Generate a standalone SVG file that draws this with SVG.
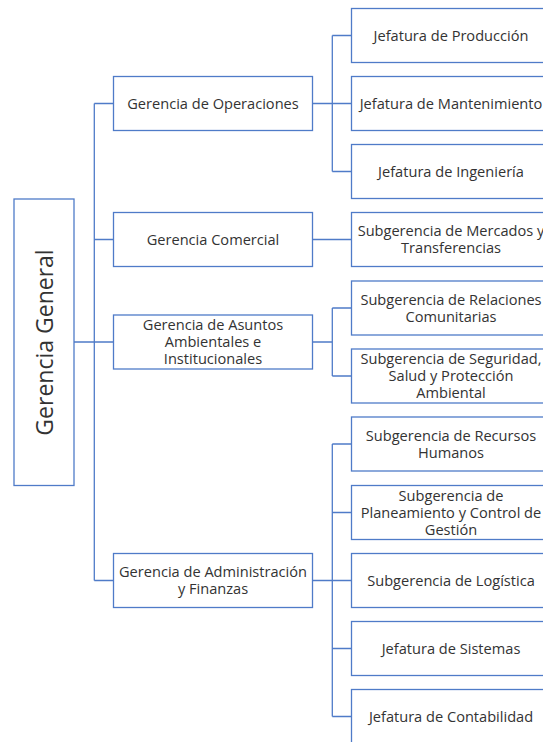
<svg xmlns="http://www.w3.org/2000/svg" width="543" height="742" viewBox="0 0 543 742">
<style>
.box{fill:#ffffff;stroke:#4f7bc8;stroke-width:1.3}
.ln{stroke:#4f7bc8;stroke-width:1.3;fill:none}
text{font-family:"Open Sans","Noto Sans",sans-serif;font-size:14.6px;fill:#333333;text-anchor:middle}
.big{font-size:23px}
</style>
<rect width="543" height="742" fill="#ffffff"/>
<g id="connectors" class="ln">
<path d="M74 342H94.3M94.3 103.5V580.5M94.3 103.5H113.5M94.3 239.5H113.5M94.3 342H113.5M94.3 580.5H113.5"/>
<path d="M312.5 103.5H332.3M332.3 35.5V171.5M332.3 35.5H351.5M332.3 103.5H351.5M332.3 171.5H351.5"/>
<path d="M312.5 239.5H351.5"/>
<path d="M312.5 342H332.3M332.3 308V376M332.3 308H351.5M332.3 376H351.5"/>
<path d="M312.5 580.5H332.3M332.3 444V716.5M332.3 444H351.5M332.3 512.5H351.5M332.3 580.5H351.5M332.3 648.5H351.5M332.3 716.5H351.5"/>
</g>
<g id="gerencia-general"><rect class="box" x="14" y="199" width="60" height="286.5"/><text class="big" transform="translate(52.5,342.5) rotate(-90)">Gerencia General</text></g>
<g id="gerencia-operaciones"><rect class="box" x="113.5" y="76.5" width="199" height="54"/><text x="213" y="108.5">Gerencia de Operaciones</text></g>
<g id="gerencia-comercial"><rect class="box" x="113.5" y="212.5" width="199" height="54"/><text x="213" y="244.5">Gerencia Comercial</text></g>
<g id="gerencia-asuntos"><rect class="box" x="113.5" y="315" width="199" height="54"/><text x="213" y="330">Gerencia de Asuntos<tspan x="213" dy="17">Ambientales e</tspan><tspan x="213" dy="17">Institucionales</tspan></text></g>
<g id="gerencia-admin"><rect class="box" x="113.5" y="553.5" width="199" height="54"/><text x="213" y="577">Gerencia de Administración<tspan x="213" dy="17">y Finanzas</tspan></text></g>
<g id="jef-produccion"><rect class="box" x="351.5" y="8.5" width="199" height="54"/><text x="451" y="40.5">Jefatura de Producción</text></g>
<g id="jef-mantenimiento"><rect class="box" x="351.5" y="76.5" width="199" height="54"/><text x="451" y="108.5">Jefatura de Mantenimiento</text></g>
<g id="jef-ingenieria"><rect class="box" x="351.5" y="144.5" width="199" height="54"/><text x="451" y="176.5">Jefatura de Ingeniería</text></g>
<g id="sub-mercados"><rect class="box" x="351.5" y="212.5" width="199" height="54"/><text x="451" y="236">Subgerencia de Mercados y<tspan x="451" dy="17">Transferencias</tspan></text></g>
<g id="sub-relaciones"><rect class="box" x="351.5" y="281" width="199" height="54"/><text x="451" y="304.5">Subgerencia de Relaciones<tspan x="451" dy="17">Comunitarias</tspan></text></g>
<g id="sub-seguridad"><rect class="box" x="351.5" y="349" width="199" height="54"/><text x="451" y="364">Subgerencia de Seguridad,<tspan x="451" dy="17">Salud y Protección</tspan><tspan x="451" dy="17">Ambiental</tspan></text></g>
<g id="sub-rrhh"><rect class="box" x="351.5" y="417" width="199" height="54"/><text x="451" y="440.5">Subgerencia de Recursos<tspan x="451" dy="17">Humanos</tspan></text></g>
<g id="sub-planeamiento"><rect class="box" x="351.5" y="485.5" width="199" height="54"/><text x="451" y="500.5">Subgerencia de<tspan x="451" dy="17">Planeamiento y Control de</tspan><tspan x="451" dy="17">Gestión</tspan></text></g>
<g id="sub-logistica"><rect class="box" x="351.5" y="553.5" width="199" height="54"/><text x="451" y="585.5">Subgerencia de Logística</text></g>
<g id="jef-sistemas"><rect class="box" x="351.5" y="621.5" width="199" height="54"/><text x="451" y="653.5">Jefatura de Sistemas</text></g>
<g id="jef-contabilidad"><rect class="box" x="351.5" y="689.5" width="199" height="54"/><text x="451" y="721.5">Jefatura de Contabilidad</text></g>
</svg>
